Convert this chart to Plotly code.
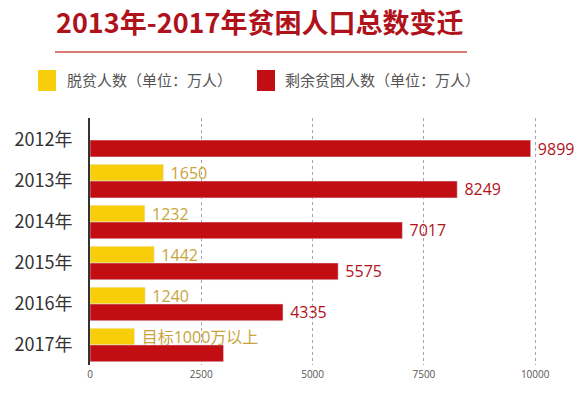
import plotly.graph_objects as go

years = ["2012年", "2013年", "2014年", "2015年", "2016年", "2017年"]
lifted = [None, 1650, 1232, 1442, 1240, 1000]
lifted_text = ["", "1650", "1232", "1442", "1240", "目标1000万以上"]
remaining = [9899, 8249, 7017, 5575, 4335, 3000]
remaining_text = ["9899", "8249", "7017", "5575", "4335", ""]
xticks = [0, 2500, 5000, 7500, 10000]

FONT = "Noto Sans CJK SC"
NUMFONT = "Open Sans, Noto Sans CJK SC"
YEL = "#f8cd0a"
RED = "#c20d12"
W, H = 585, 395


def px(xp):
    return xp / W


def py(yp):
    return (H - yp) / H


fig = go.Figure()
fig.add_trace(go.Bar(
    y=years, x=lifted, orientation="h", marker_color=YEL,
    text=lifted_text, texttemplate=" %{text}", textposition="outside",
    cliponaxis=False, constraintext="none",
    textfont=dict(color="#c8a43a", size=16, family=NUMFONT),
    name="脱贫人数（单位：万人）", showlegend=False,
))
fig.add_trace(go.Bar(
    y=years, x=remaining, orientation="h", marker_color=RED,
    text=remaining_text, texttemplate=" %{text}", textposition="outside",
    cliponaxis=False, constraintext="none",
    textfont=dict(color="#b0141b", size=16, family=NUMFONT),
    name="剩余贫困人数（单位：万人）", showlegend=False,
))

fig.update_layout(
    width=W, height=H, autosize=False,
    margin=dict(l=0, r=0, t=0, b=0, pad=0),
    paper_bgcolor="white", plot_bgcolor="white",
    barmode="group", bargap=0.18, bargroupgap=0,
    font=dict(family=FONT),
    xaxis=dict(domain=[px(90), px(553)], range=[0, 10400], tickvals=xticks,
               ticktext=[str(v) for v in xticks], automargin=False,
               showgrid=True, gridcolor="#9aa6b4", griddash="dot", gridwidth=1,
               zeroline=False, showline=False, ticks="",
               ticklabelstandoff=2,
               tickfont=dict(size=10, color="#555555", family=NUMFONT)),
    yaxis=dict(domain=[py(365), py(118)], type="category", range=[5.49, -0.54],
               showgrid=False, automargin=False,
               showline=True, linecolor="#333333", linewidth=2, ticks="",
               ticklabelstandoff=12,
               tickfont=dict(size=18, color="#333333", family=FONT)),
    showlegend=False,
)

fig.add_annotation(text="<b>2013年-2017年贫困人口总数变迁</b>", x=px(259), y=py(22),
                   xref="paper", yref="paper", showarrow=False,
                   xanchor="center", yanchor="middle",
                   font=dict(size=27, color="#b0121b", family=FONT))
fig.add_shape(type="line", xref="paper", yref="paper",
              x0=px(55), x1=px(467), y0=py(52), y1=py(52),
              line=dict(color="#d97a76", width=2))
fig.add_shape(type="rect", xref="paper", yref="paper",
              x0=px(38), x1=px(56), y0=py(70), y1=py(91),
              fillcolor=YEL, line_width=0)
fig.add_shape(type="rect", xref="paper", yref="paper",
              x0=px(257), x1=px(275), y0=py(70), y1=py(91),
              fillcolor=RED, line_width=0)
fig.add_annotation(text="脱贫人数（单位：万人）", x=px(65), y=py(80),
                   xref="paper", yref="paper", showarrow=False,
                   xanchor="left", yanchor="middle",
                   font=dict(size=15, color="#555555", family=FONT))
fig.add_annotation(text="剩余贫困人数（单位：万人）", x=px(283), y=py(80),
                   xref="paper", yref="paper", showarrow=False,
                   xanchor="left", yanchor="middle",
                   font=dict(size=15, color="#555555", family=FONT))

fig.write_html("out.html", config={"displayModeBar": False},
               post_script="document.body.style.margin='0';")
